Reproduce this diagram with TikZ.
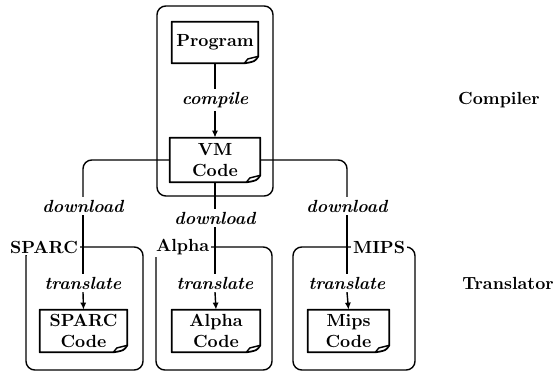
\documentclass[tikz,border=0pt]{standalone}
\usepackage{tikz}
\usetikzlibrary{arrows.meta,positioning}
\tikzset{
    docnode/.style={align=center, font=\bfseries, minimum width=1.74cm, minimum height=0.84cm, inner sep=1pt},
    hostframe/.style={draw, line width=0.8pt, rounded corners=5pt, minimum height=2.46cm},
    steplabel/.style={font=\bfseries\itshape, inner sep=1.5pt},
    framelabel/.style={font=\bfseries, fill=white, inner sep=1pt},
    layerlabel/.style={font=\bfseries},
    flowline/.style={line width=0.8pt},
    flowarrow/.style={flowline, -{Latex[length=4pt,width=3.5pt]}}
}
% document box with a curled corner
\newcommand{\curlframe}[1]{%
    \draw[line width=1pt, line join=round] (#1.south west) -- (#1.north west) -- (#1.north east) -- ([yshift=4pt]#1.south east)
        .. controls ([shift={(-2pt,1pt)}]#1.south east) .. ([xshift=-8pt]#1.south east) -- cycle;
    \draw[line width=0.8pt] ([xshift=-8pt]#1.south east) -- ([shift={(-6pt,2.5pt)}]#1.south east) -- ([yshift=4pt]#1.south east);
}
\begin{document}
\begin{tikzpicture}
    \useasboundingbox (0,0) rectangle (11.2,7.48);
    % frames
    \node[hostframe, minimum width=2.32cm, minimum height=3.80cm] (compframe) at (4.30,5.46) {};
    \node[hostframe, minimum width=2.34cm] (sparcframe) at (1.69,1.31) {};
    \node[hostframe, minimum width=2.32cm] (alphaframe) at (4.28,1.31) {};
    \node[hostframe, minimum width=2.44cm] (mipsframe) at (7.08,1.31) {};
    \node[framelabel, anchor=east] (sparcname) at (1.60,2.54) {SPARC};
    \node[framelabel, anchor=west] (alphaname) at (3.08,2.54) {Alpha};
    \node[framelabel, anchor=west] (mipsname) at (7.02,2.54) {MIPS};

    % documents
    \node[docnode, minimum width=1.72cm, minimum height=0.82cm] (prog) at (4.30,6.63) {Program};
    \node[docnode, minimum width=1.80cm, minimum height=0.88cm] (vm) at (4.30,4.28) {VM\\Code};
    \node[docnode] (sparccode) at (1.67,0.86) {SPARC\\Code};
    \node[docnode, minimum width=1.76cm] (alphacode) at (4.32,0.86) {Alpha\\Code};
    \node[docnode, minimum width=1.62cm] (mipscode) at (6.97,0.86) {Mips\\Code};
    \foreach \doc in {prog,vm,sparccode,alphacode,mipscode} {\curlframe{\doc}}

    % step labels
    \node[steplabel] (compile) at (4.30,5.48) {compile};
    \node[steplabel] (sparcdl) at (1.66,3.36) {download};
    \node[steplabel] (alphadl) at (4.30,3.12) {download};
    \node[steplabel] (mipsdl) at (6.94,3.36) {download};
    \node[steplabel] (sparctr) at (1.66,1.82) {translate};
    \node[steplabel] (alphatr) at (4.30,1.82) {translate};
    \node[steplabel] (mipstr) at (6.94,1.82) {translate};

    \node[layerlabel] (complayer) at (9.98,5.48) {Compiler};
    \node[layerlabel] (translayer) at (10.16,1.82) {Translator};

    % connectors
    \draw[flowline] (prog.south) -- (compile.north);
    \draw[flowarrow] (compile.south) -- (vm.north);
    \draw[flowline, rounded corners=5pt] (vm.west) -| (sparcdl.north);
    \draw[flowline] (vm.south) -- (alphadl.north);
    \draw[flowline, rounded corners=5pt] (vm.east) -| (mipsdl.north);
    \draw[flowline] (sparcdl.south) -- (sparctr.north);
    \draw[flowline] (alphadl.south) -- (alphatr.north);
    \draw[flowline] (mipsdl.south) -- (mipstr.north);
    \draw[flowarrow] (sparctr.south) -- (sparccode.north);
    \draw[flowarrow] (alphatr.south) -- (alphacode.north);
    \draw[flowarrow] (mipstr.south) -- (mipscode.north);
\end{tikzpicture}
\end{document}
